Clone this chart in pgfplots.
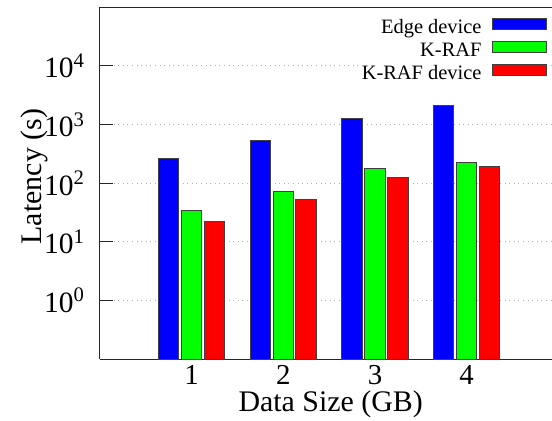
\documentclass[border=0pt]{standalone}
\usepackage{pgfplots}
\usepackage{pgfplotstable}
\pgfplotsset{compat=1.18}
\usepackage{fontspec}
\setmainfont{Liberation Serif}
\definecolor{barblue}{RGB}{0,0,255}
\definecolor{bargreen}{RGB}{0,255,0}
\definecolor{barred}{RGB}{255,0,0}
\pgfplotstableread{
x   edge   kraf   krafdev
1   260    34.5   22.4
2   535    73     53
3   1290   178    127
4   2095   229    192
}\latency
\begin{document}
\begin{tikzpicture}
\begin{axis}[
  scale only axis,
  width=226.1bp, height=175.85bp,
  at={(0,0)}, anchor=south west,
  ymode=log, log origin y=infty,
  ymin=0.1, ymax=1e5,
  xmin=0, xmax=4.93,
  axis x line*=box, axis y line*=left,
  axis line style={line width=0.5bp, draw=black!85},
  tick align=inside,
  ytick={1,10,100,1000,10000},
  yticklabels={10\textsuperscript{0},10\textsuperscript{1},10\textsuperscript{2},10\textsuperscript{3},10\textsuperscript{4}},
  xtick={1,2,3,4}, xticklabels={1,2,3,4},
  major x tick style={draw=none},
  major y tick style={line width=0.5bp, draw=black!85},
  major tick length=6.75bp,
  minor y tick style={draw=none},
  ymajorgrids,
  major grid style={draw=black!30, line width=0.5bp, dash pattern=on 0.5bp off 1.8bp},
  yticklabel style={font=\fontsize{14.8}{16}\selectfont, anchor=east, inner sep=0pt, xshift=-7.25bp},
  xticklabel style={font=\fontsize{14.5}{16}\selectfont, anchor=base, inner sep=0pt, yshift=-5.85bp},
  xlabel={Data Size (GB)},
  ylabel={Latency (s)},
  xlabel style={font=\fontsize{15}{18}\selectfont, at={(axis description cs:0.5,0)}, anchor=base, inner sep=0pt, yshift=-26.35bp, xshift=2.4bp},
  ylabel style={font=\fontsize{15}{18}\selectfont, at={(axis description cs:0,0.5)}, anchor=center, inner sep=0pt, yshift=32.5bp, xshift=3.25bp},
  ybar, bar width=0.2225,
  every axis plot post/.append style={bar shift=0pt, draw=black!75, line width=0.5bp,
    legend image code/.code={\draw[#1, line width=0.5bp] (0bp,-0.6bp) rectangle (27bp,4.9bp);}},
  legend cell align=right,
  legend plot pos=right,
  legend style={draw=none, fill=white, at={(axis description cs:1,1)}, anchor=north east,
    xshift=-2.25bp, yshift=-5bp, inner sep=0pt, font=\fontsize{10.25}{12}\selectfont,
    row sep=1.55bp, column sep=5.3bp,
    nodes={inner sep=0pt, text height=7.5bp, text depth=2.2bp}},
]
\addplot[fill=barblue] table[x expr=\thisrow{x}-0.25, y=edge] {\latency};
\addlegendentry{Edge device}
\addplot[fill=bargreen] table[x=x, y=kraf] {\latency};
\addlegendentry{K-RAF}
\addplot[fill=barred] table[x expr=\thisrow{x}+0.25, y=krafdev] {\latency};
\addlegendentry{K-RAF device}
\end{axis}
\pgfresetboundingbox
\path[use as bounding box] (-49.9bp,-31bp) rectangle (226.1bp,179.5bp);
\end{tikzpicture}
\end{document}
